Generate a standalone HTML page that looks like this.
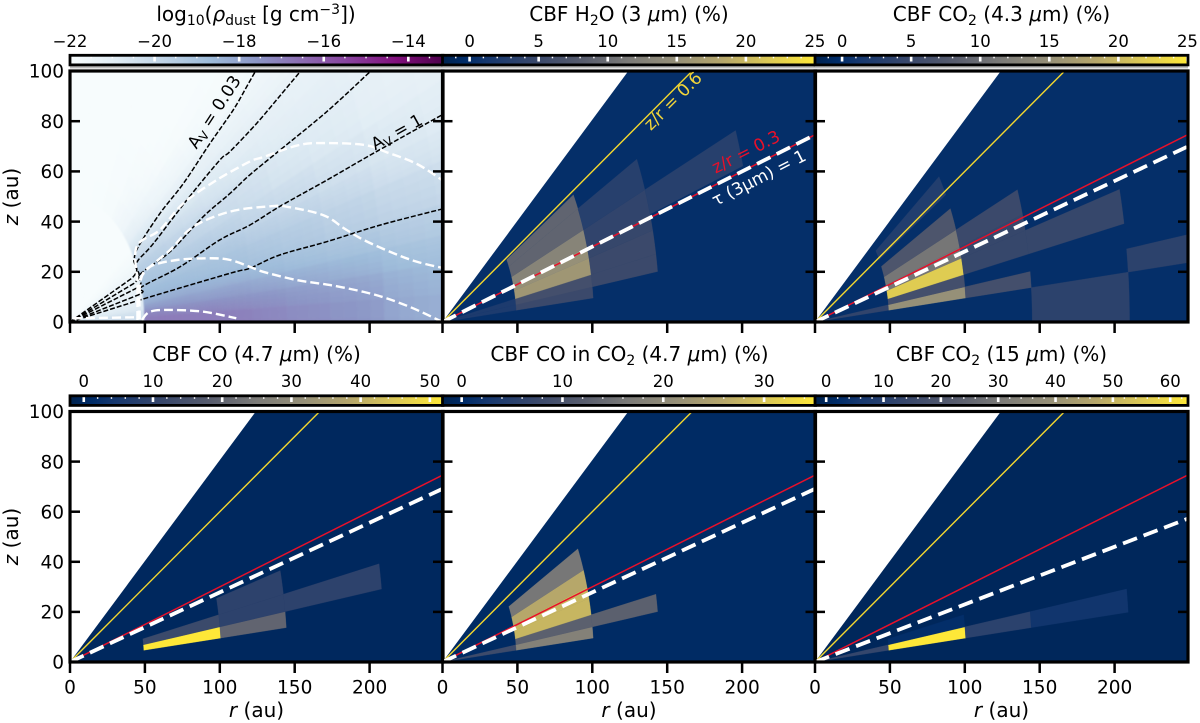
<!DOCTYPE html>
<html lang="en">
<head>
<meta charset="utf-8">
<title>Dust density and CBF maps</title>
<style>
html,body{margin:0;padding:0;background:#fff;width:1200px;height:723px;overflow:hidden}
svg{display:block}
text{font-family:"DejaVu Sans","Liberation Sans",sans-serif;fill:#000}
.title{font-size:20px;text-anchor:middle}
.alab{font-size:20px;text-anchor:middle}
.note{font-size:17px;text-anchor:middle}
</style>
</head>
<body>
<svg id="figure" xmlns="http://www.w3.org/2000/svg" width="1200" height="723" viewBox="0 0 1200 723">
<defs id="defs">
<filter id="soften" x="-5%" y="-5%" width="110%" height="110%"><feGaussianBlur stdDeviation="1"/></filter>
<filter id="soften-inner" x="-5%" y="-5%" width="110%" height="110%"><feGaussianBlur stdDeviation="0.7"/></filter>
</defs>
<g id="marks"></g>

<g>
<text class="title" x="256" y="21">log<tspan font-size="14" dy="4">10</tspan><tspan dy="-4">(</tspan><tspan font-style="italic">ρ</tspan><tspan font-size="14" dy="4">dust</tspan><tspan dy="-4"> [g cm</tspan><tspan font-size="14" dy="-7">−3</tspan><tspan dy="7">])</tspan></text>
<text class="title" x="629" y="21">CBF H<tspan font-size="14" dy="4">2</tspan><tspan dy="-4">O (3 </tspan><tspan font-style="italic">μ</tspan>m) (%)</text>
<text class="title" x="1001.5" y="21">CBF CO<tspan font-size="14" dy="4">2</tspan><tspan dy="-4"> (4.3 </tspan><tspan font-style="italic">μ</tspan>m) (%)</text>
<text class="title" x="256.5" y="361">CBF CO (4.7 <tspan font-style="italic">μ</tspan>m) (%)</text>
<text class="title" x="629.5" y="361">CBF CO in CO<tspan font-size="14" dy="4">2</tspan><tspan dy="-4"> (4.7 </tspan><tspan font-style="italic">μ</tspan>m) (%)</text>
<text class="title" x="1001.5" y="361">CBF CO<tspan font-size="14" dy="4">2</tspan><tspan dy="-4"> (15 </tspan><tspan font-style="italic">μ</tspan>m) (%)</text>
</g>

<g>
<text class="alab" transform="translate(18,196.5) rotate(-90)"><tspan font-style="italic">z</tspan> (au)</text>
<text class="alab" transform="translate(18,536.5) rotate(-90)"><tspan font-style="italic">z</tspan> (au)</text>
<text class="alab" x="256.5" y="717"><tspan font-style="italic">r</tspan> (au)</text>
<text class="alab" x="629" y="717"><tspan font-style="italic">r</tspan> (au)</text>
<text class="alab" x="1001.5" y="717"><tspan font-style="italic">r</tspan> (au)</text>
</g>

<g>
<text class="note" transform="translate(219,115) rotate(-57)">A<tspan font-size="12" dy="3">V</tspan><tspan dy="-3"> = 0.03</tspan></text>
<text class="note" transform="translate(399.5,137) rotate(-29)">A<tspan font-size="12" dy="3">V</tspan><tspan dy="-3"> = 1</tspan></text>
<text class="note" transform="translate(677,105) rotate(-45)" style="fill:#f2d53a">z/r = 0.6</text>
<text class="note" transform="translate(748.5,157) rotate(-27)" style="fill:#e8102a">z/r = 0.3</text>
<text class="note" transform="translate(761.5,183) rotate(-27)" style="fill:#fff">τ (3μm) = 1</text>
</g>
</svg>

<script>
// ---------- shared axis data ----------
const rTicks = [0, 50, 100, 150, 200];
const zTicks = [0, 20, 40, 60, 80, 100];
const rMax = 249;
const zMax = 100;

// ---------- CBF heat-map grid (spherical radius bins, z/r bands) ----------
const cbfRadiusEdges = [0, 49.5, 101, 145, 210, 330];
const cbfSlopeEdges = [0, 0.095, 0.14, 0.19, 0.26, 0.31, 0.39, 0.50, 0.58, 0.70];

const h2oValues = [
  [0, 0, 0, 0, 0],
  [2, 5, 0, 0, 0],
  [2, 6, 5, 0, 0],
  [0, 16, 5, 0, 0],
  [0, 15, 4.5, 0, 0],
  [0, 13, 4, 3, 0],
  [0, 9, 3, 0, 0],
  [0, 9, 0, 0, 0],
  [0, 0, 0, 0, 0]
];
const co2Short = [
  [0, 0, 0, 3.5, 0],
  [4, 15, 6, 0, 3.5],
  [0, 6, 0, 0, 0],
  [0, 22, 4.5, 4.5, 0],
  [0, 11, 4.5, 0, 0],
  [0, 11, 5, 0, 0],
  [0, 7, 0, 0, 0],
  [0, 0, 0, 0, 0],
  [0, 2.5, 0, 0, 0]
];
const coValues = [
  [0, 0, 0, 0, 0],
  [0, 52, 20, 0, 0],
  [0, 12, 9, 9, 0],
  [0, 0, 9, 0, 0],
  [0, 0, 0, 0, 0],
  [0, 0, 0, 0, 0],
  [0, 0, 0, 0, 0],
  [0, 0, 0, 0, 0],
  [0, 0, 0, 0, 0]
];
const coInCo2Values = [
  [0, 0, 0, 0, 0],
  [8, 18, 0, 0, 0],
  [0, 12.5, 12.5, 0, 0],
  [0, 28, 0, 0, 0],
  [0, 28, 0, 0, 0],
  [0, 26, 0, 0, 0],
  [0, 16, 0, 0, 0],
  [0, 0, 0, 0, 0],
  [0, 0, 0, 0, 0]
];
const co2Long = [
  [0, 0, 0, 0, 0],
  [13, 63, 11, 5, 0],
  [0, 2.5, 0, 0, 0],
  [0, 0, 0, 0, 0],
  [0, 0, 0, 0, 0],
  [0, 0, 0, 0, 0],
  [0, 0, 0, 0, 0],
  [0, 0, 0, 0, 0],
  [0, 0, 0, 0, 0]
];

// ---------- surface lines (z/r) ----------
const wedgeSlope = 0.806;
const yellowSlope = 0.6;
const redSlope = 0.3;
const tauSlopes = [0.3, 0.281, 0.278, 0.278, 0.23];

// ---------- dust density grid, log10(rho) ----------
const rhoRadiusEdges = [0, 12, 30, 49.5, 59, 71, 85, 101, 122, 145, 174, 210, 250, 330];
const rhoSlopeEdges = [0, 0.045, 0.095, 0.14, 0.19, 0.26, 0.31, 0.39, 0.50, 0.58, 0.68, 0.8, 1.0, 1.5, 100];
const rhoValues = [
  [-20.2, -20.2, -20.2, -16.9, -16.8, -16.8, -16.8, -16.9, -17.1, -17.3, -17.5, -18.1, -18.5],
  [-20.4, -20.4, -20.4, -17.2, -17.2, -17.3, -17.3, -17.4, -17.5, -17.7, -17.9, -18.4, -18.8],
  [-20.7, -20.8, -20.8, -17.8, -17.8, -17.8, -17.9, -17.9, -18.1, -18.3, -18.5, -18.9, -19.2],
  [-20.9, -21.0, -21.0, -18.3, -18.3, -18.3, -18.4, -18.5, -18.7, -18.9, -19.1, -19.4, -19.7],
  [-21.1, -21.2, -21.2, -18.7, -18.7, -18.8, -18.9, -19.0, -19.2, -19.4, -19.7, -20.0, -20.2],
  [-21.2, -21.3, -21.3, -18.9, -19.0, -19.1, -19.2, -19.3, -19.6, -19.8, -20.1, -20.5, -20.7],
  [-21.3, -21.4, -21.4, -19.1, -19.2, -19.4, -19.5, -19.7, -20.0, -20.2, -20.5, -20.8, -21.0],
  [-21.5, -21.6, -21.6, -19.5, -19.6, -19.8, -20.0, -20.2, -20.4, -20.7, -20.9, -21.2, -21.3],
  [-21.8, -21.8, -21.8, -19.9, -20.0, -20.2, -20.4, -20.6, -20.8, -21.0, -21.1, -21.3, -21.4],
  [-21.9, -21.9, -21.9, -20.2, -20.4, -20.6, -20.8, -20.9, -21.1, -21.2, -21.3, -21.4, -21.5],
  [-22, -22, -22, -20.7, -20.9, -21.1, -21.2, -21.3, -21.4, -21.5, -21.6, -21.7, -21.7],
  [-22, -22, -22, -21.2, -21.4, -21.6, -21.7, -21.8, -21.9, -21.9, -22, -22, -22],
  [-22, -22, -22, -21.7, -21.8, -21.9, -22, -22, -22, -22, -22, -22, -22],
  [-22, -22, -22, -22, -22, -22, -22, -22, -22, -22, -22, -22, -22]
];

// ---------- density contours (white) and extinction contours (black) ----------
const contourR = [
  [45, 45, 44.5, 60, 75.7, 98, 120, 129, 151.5, 167, 196, 211.5, 231.5, 248.3],
  [46, 46, 50, 66.8, 82.4, 107, 133.6, 145, 169, 183, 196, 216, 231.6, 248.3],
  [46.5, 47, 53.4, 71.3, 93.5, 107, 120, 129, 151.5, 173.8, 196, 211.5, 229.3, 248.3],
  [48, 53.4, 66.8, 89, 111],
  [2, 15.6, 44.5]
];
const contourZ = [
  [0.8, 15.4, 30, 36.7, 47.3, 56.6, 63.9, 65.7, 70.3, 71.3, 70.6, 67.6, 63, 56.6],
  [1, 14, 20, 28.7, 38, 44, 46.1, 45.9, 42.6, 37.3, 32.7, 27.4, 24, 21.6],
  [1, 16, 22, 24.7, 25.4, 24.7, 22, 20, 16.7, 14.7, 12, 9.4, 5.4, 0.1],
  [0.8, 4.1, 4.8, 4.1, 1.5],
  [1.5, 1.6, 1.9]
];
const avR = [
  [0, 41.2, 42.7, 45.6, 60.1, 75.7, 93.5, 109, 118, 123.6],
  [0, 42.7, 44.1, 45.6, 55.7, 78, 100, 106.8, 124.7, 140, 153.6],
  [0, 44.1, 46.8, 66.8, 89, 106.8, 120, 140.2, 171.4, 200.3],
  [0, 45.6, 47.9, 73.5, 100, 120, 140.2, 171.4, 202.5, 248.3],
  [0, 46.8, 106.8, 120, 140, 171.4, 207, 248.3]
];
const avZ = [
  [0, 17.4, 24.7, 30, 43.3, 55.2, 71.2, 84.5, 93.8, 99.7],
  [0, 15.4, 22, 24.7, 31.3, 48.6, 64.5, 67.9, 79.2, 90, 99.7],
  [0, 13.4, 19, 28, 42, 51.2, 58.6, 68.5, 83.8, 99.7],
  [0, 10.8, 14, 22, 32.7, 38.6, 46.1, 56.5, 67.2, 82.5],
  [0, 8.8, 19.4, 21.4, 26.7, 32, 38.6, 45]
];

// ---------- colour bar ranges and tick labels ----------
const rhoCbarTicks = [-22, -20, -18, -16, -14];
const h2oCbarTicks = [0, 5, 10, 15, 20, 25];
const co2ShortCbarTicks = [0, 5, 10, 15, 20, 25];
const coCbarTicks = [0, 10, 20, 30, 40, 50];
const coInCo2CbarTicks = [0, 10, 20, 30];
const co2LongCbarTicks = [0, 10, 20, 30, 40, 50, 60];

// ---------- colour maps ----------
const cividisStops = ['#00224e', '#002c68', '#16386f', '#39486b', '#575c6d', '#7c7b78', '#958f78', '#b5a66b', '#dcc955', '#fee838'];
const cividisPos = [0, 0.06, 0.12, 0.25, 0.375, 0.5, 0.625, 0.75, 0.875, 1];
const bupuStops = ['#f7fcfd', '#e0ecf4', '#bfd3e6', '#9ebcda', '#8c96c6', '#8c6bb1', '#88419d', '#810f7c', '#4d004b'];
const bupuPos = [0, 0.125, 0.25, 0.375, 0.5, 0.625, 0.75, 0.875, 1];

const NS = 'http://www.w3.org/2000/svg';
const root = document.getElementById('marks');
const defs = document.getElementById('defs');

function mk(tag, parent) {
  const el = document.createElementNS(NS, tag);
  parent.appendChild(el);
  return el;
}
function hex(c) { return [1, 3, 5].map(i => parseInt(c.substr(i, 2), 16)); }
function cmap(stops, pos, t) {
  t = Math.max(0, Math.min(1, t));
  let i = 0;
  while (i < pos.length - 2 && t > pos[i + 1]) i++;
  const f = (t - pos[i]) / (pos[i + 1] - pos[i]);
  const a = hex(stops[i]), b = hex(stops[i + 1]);
  return 'rgb(' + a.map((v, k) => Math.round(v + (b[k] - v) * f)).join(',') + ')';
}

const LEFTS = [70, 442.5, 815];
const PW = 373;
const ROWS = [{ top: 71, bottom: 322, cbTop: 55.3 }, { top: 411.5, bottom: 662, cbTop: 395.8 }];

function xScale(col, r) { return LEFTS[col] + r / rMax * PW; }
function yScale(row, z) { return ROWS[row].bottom - z / zMax * (ROWS[row].bottom - ROWS[row].top); }

function cellPoints(col, row, rIn, rOut, sLo, sHi) {
  const tLo = Math.atan(sLo), tHi = Math.atan(sHi), n = 8, pts = [];
  for (let i = 0; i <= n; i++) {
    const t = tLo + (tHi - tLo) * i / n;
    pts.push(xScale(col, rOut * Math.cos(t)).toFixed(2) + ',' + yScale(row, rOut * Math.sin(t)).toFixed(2));
  }
  for (let i = n; i >= 0; i--) {
    const t = tLo + (tHi - tLo) * i / n;
    pts.push(xScale(col, rIn * Math.cos(t)).toFixed(2) + ',' + yScale(row, rIn * Math.sin(t)).toFixed(2));
  }
  return pts.join(' ');
}
function polyline(parent, col, row, rs, zs, color, width, dash) {
  const p = mk('polyline', parent);
  p.setAttribute('points', rs.map((r, i) => xScale(col, r).toFixed(2) + ',' + yScale(row, zs[i]).toFixed(2)).join(' '));
  p.setAttribute('fill', 'none');
  p.setAttribute('stroke', color);
  p.setAttribute('stroke-width', width);
  if (dash) p.setAttribute('stroke-dasharray', dash);
  return p;
}
// smooth curve through data points; the first `straight` segments stay straight
function smoothPath(parent, col, row, rs, zs, color, width, dash, straight) {
  const P = rs.map((r, i) => [xScale(col, r), yScale(row, zs[i])]);
  let d = 'M' + P[0][0].toFixed(2) + ' ' + P[0][1].toFixed(2);
  for (let i = 0; i < P.length - 1; i++) {
    if (i < straight) {
      d += 'L' + P[i + 1][0].toFixed(2) + ' ' + P[i + 1][1].toFixed(2);
      continue;
    }
    const p0 = P[Math.max(i - 1, 0)], p1 = P[i], p2 = P[i + 1], p3 = P[Math.min(i + 2, P.length - 1)];
    const c1x = p1[0] + (p2[0] - p0[0]) / 6, c1y = p1[1] + (p2[1] - p0[1]) / 6;
    const c2x = p2[0] - (p3[0] - p1[0]) / 6, c2y = p2[1] - (p3[1] - p1[1]) / 6;
    d += 'C' + [c1x, c1y, c2x, c2y, p2[0], p2[1]].map(v => v.toFixed(2)).join(' ');
  }
  const el = mk('path', parent);
  el.setAttribute('d', d);
  el.setAttribute('fill', 'none');
  el.setAttribute('stroke', color);
  el.setAttribute('stroke-width', width);
  if (dash) el.setAttribute('stroke-dasharray', dash);
  return el;
}
function rect(parent, x, y, w, h, fill) {
  const r = mk('rect', parent);
  r.setAttribute('x', x);
  r.setAttribute('y', y);
  r.setAttribute('width', w);
  r.setAttribute('height', h);
  r.setAttribute('fill', fill);
  return r;
}
function label(parent, x, y, str, size, anchor) {
  const t = mk('text', parent);
  t.setAttribute('x', x);
  t.setAttribute('y', y);
  t.setAttribute('font-size', size);
  t.setAttribute('text-anchor', anchor);
  t.textContent = str;
  return t;
}
function fmt(v) { return v < 0 ? '\u2212' + Math.abs(v) : String(v); }

function drawAxes(g, col, row, showZ) {
  const L = LEFTS[col], R = L + PW, T = ROWS[row].top, B = ROWS[row].bottom;
  zTicks.forEach(v => {
    const y = yScale(row, v);
    if (v !== 0 && v !== 100) {
      const a = rect(g, L, y - 1.25, 10, 2.5, '#000');
      
      
      const b = rect(g, R - 10, y - 1.25, 10, 2.5, '#000');
      
      
    }
    if (showZ) {
      const t = label(g, L - 6, y + 6.7, String(v), 18.5, 'end');
      
      
    }
  });
  rTicks.forEach(v => {
    const x = xScale(col, v);
    const a = rect(g, x - 1.25, B, 2.5, 11, '#000');
    
    
    if (row === 1) {
      const t = label(g, x, 693.5, String(v), 18.5, 'middle');
      
      
    }
  });
  const sp = mk('rect', g);
  sp.setAttribute('x', L);
  sp.setAttribute('y', T);
  sp.setAttribute('width', PW);
  sp.setAttribute('height', B - T);
  sp.setAttribute('fill', 'none');
  sp.setAttribute('stroke', '#000');
  sp.setAttribute('stroke-width', 3.2);
  
  
}

function drawColorbar(g, col, row, id, stops, pos, vMin, vMax, ticks, minorStep) {
  const L = LEFTS[col], yT = ROWS[row].cbTop, h = 9.6;
  const grad = mk('linearGradient', defs);
  grad.setAttribute('id', id);
  pos.forEach((p, i) => {
    const s = mk('stop', grad);
    s.setAttribute('offset', p);
    s.setAttribute('stop-color', stops[i]);
  });
  if (row === 0) {
    const sep = rect(g, L, yT + h + 1, PW, 2.5, '#bdbdbd');
    
    
  }
  const bar = rect(g, L, yT, PW, h, 'url(#' + id + ')');
  
  
  const toX = v => L + (v - vMin) / (vMax - vMin) * PW;
  const first = Math.ceil(vMin / minorStep);
  for (let k = first; k * minorStep <= vMax; k++) {
    const m = rect(g, toX(k * minorStep) - 0.7, yT + 1, 1.4, 2, '#fff');
    
    
  }
  ticks.forEach(v => {
    const x = toX(v);
    const m = rect(g, x - 1.3, yT + 1, 2.6, 5.2, '#fff');
    
    
    const t = label(g, x, row === 0 ? 47 : 387, fmt(v), 16.5, 'middle');
    
    
  });
  const fr = mk('rect', g);
  fr.setAttribute('x', L);
  fr.setAttribute('y', yT);
  fr.setAttribute('width', PW);
  fr.setAttribute('height', h);
  fr.setAttribute('fill', 'none');
  fr.setAttribute('stroke', '#000');
  fr.setAttribute('stroke-width', 2.8);
  
  
}

function clipFor(id, col, row) {
  const c = mk('clipPath', defs);
  c.setAttribute('id', id);
  const r = mk('rect', c);
  r.setAttribute('x', LEFTS[col]);
  r.setAttribute('y', ROWS[row].top);
  r.setAttribute('width', PW);
  r.setAttribute('height', ROWS[row].bottom - ROWS[row].top);
}

function drawCbfPanel(col, row, idx, name, values, vMin, vMax, ticks, minorStep) {
  const g = mk('g', root);
  
  
  const id = 'clip-' + name;
  clipFor(id, col, row);
  const inner = mk('g', g);
  inner.setAttribute('clip-path', 'url(#' + id + ')');
  const norm = v => (v - vMin) / (vMax - vMin);

  // disk wedge background (CBF = 0)
  const wedge = mk('polygon', inner);
  wedge.setAttribute('points', [
    xScale(col, 0) + ',' + yScale(row, 0),
    xScale(col, zMax / wedgeSlope) + ',' + yScale(row, zMax),
    xScale(col, rMax) + ',' + yScale(row, zMax),
    xScale(col, rMax) + ',' + yScale(row, 0)
  ].join(' '));
  wedge.setAttribute('fill', cmap(cividisStops, cividisPos, norm(0)));
  
  

  // heat-map cells
  values.forEach((rowVals, s) => {
    rowVals.forEach((v, c) => {
      if (v <= 0) return;
      const cell = mk('polygon', inner);
      cell.setAttribute('points', cellPoints(col, row, cbfRadiusEdges[c], cbfRadiusEdges[c + 1], cbfSlopeEdges[s], cbfSlopeEdges[s + 1]));
      const color = cmap(cividisStops, cividisPos, norm(v));
      cell.setAttribute('fill', color);
      cell.setAttribute('stroke', color);
      cell.setAttribute('stroke-width', 0.3);
      
      
    });
  });

  // surface lines
  const yl = polyline(inner, col, row, [0, zMax / yellowSlope], [0, zMax], '#f5d82e', 1.4);
  
  
  const rd = polyline(inner, col, row, [0, rMax], [0, rMax * redSlope], '#e8102a', 1.5);
  
  
  const tau = polyline(inner, col, row, [0, rMax], [0, rMax * tauSlopes[idx]], '#fff', 3.8, '15 7');
  
  

  drawColorbar(g, col, row, 'cb-' + name, cividisStops, cividisPos, vMin, vMax, ticks, minorStep);
  drawAxes(g, col, row, col === 0);
}

// density shading inside one grid cell: mostly a blend of the neighbouring
// cell values, with a little of the flat cell value so the grid stays faintly visible
function rhoShade(s, c, u, v, firstCol, lastCol) {
  const nS = rhoValues.length - 1;
  const fs = Math.max(0, Math.min(nS, s + v - 0.5));
  const fc = Math.max(firstCol, Math.min(lastCol, c + u - 0.5));
  const s0 = Math.floor(fs), c0 = Math.floor(fc);
  const s1 = Math.min(nS, s0 + 1), c1 = Math.min(lastCol, c0 + 1);
  const a = fs - s0, b = fc - c0;
  const blended =
    rhoValues[s0][c0] * (1 - a) * (1 - b) +
    rhoValues[s0][c1] * (1 - a) * b +
    rhoValues[s1][c0] * a * (1 - b) +
    rhoValues[s1][c1] * a * b;
  return 0.75 * blended + 0.25 * rhoValues[s][c];
}

function drawDensityPanel() {
  const g = mk('g', root);
  
  
  clipFor('clip-density', 0, 0);
  const inner = mk('g', g);
  inner.setAttribute('clip-path', 'url(#clip-density)');
  const outerCells = mk('g', inner);
  outerCells.setAttribute('filter', 'url(#soften)');
  const innerCells = mk('g', inner);
  innerCells.setAttribute('filter', 'url(#soften-inner)');
  const vMin = -22, vMax = -13.18;
  const SUB = 4;
  const lastCol = rhoValues[0].length - 1;
  rhoValues.forEach((rowVals, s) => {
    rowVals.forEach((val, c) => {
      const isInner = c < 3;
      const layer = isInner ? innerCells : outerCells;
      const tLo = s === 0 ? Math.atan(-0.1) : Math.atan(rhoSlopeEdges[s]);
      const tHi = Math.atan(rhoSlopeEdges[s + 1]);
      const rA = c === 3 ? rhoRadiusEdges[2] : rhoRadiusEdges[c];
      const rB = rhoRadiusEdges[c + 1];
      for (let i = 0; i < SUB; i++) {
        for (let j = 0; j < SUB; j++) {
          const shade = rhoShade(s, c, (i + 0.5) / SUB, (j + 0.5) / SUB, isInner ? 0 : 3, isInner ? 2 : lastCol);
          const cell = mk('polygon', layer);
          cell.setAttribute('points', cellPoints(0, 0,
            rA + (rB - rA) * i / SUB, rA + (rB - rA) * (i + 1) / SUB,
            Math.tan(tLo + (tHi - tLo) * j / SUB), Math.tan(tLo + (tHi - tLo) * (j + 1) / SUB)));
          const color = cmap(bupuStops, bupuPos, (shade - vMin) / (vMax - vMin));
          cell.setAttribute('fill', color);
          cell.setAttribute('stroke', color);
          cell.setAttribute('stroke-width', 0.5);
          
          
        }
      }
    });
  });
  avR.forEach((rs, i) => {
    const l = smoothPath(inner, 0, 0, rs, avZ[i], '#000', 1.5, '5 2', 1);
    
    
  });
  contourR.forEach((rs, i) => {
    const l = smoothPath(inner, 0, 0, rs, contourZ[i], '#fff', 2.4, '9 4', 0);
    
    
  });
  drawColorbar(g, 0, 0, 'cb-density', bupuStops, bupuPos, vMin, vMax, rhoCbarTicks, 0.5);
  drawAxes(g, 0, 0, true);
}

drawDensityPanel();
drawCbfPanel(1, 0, 0, 'cbf-h2o', h2oValues, -1.96, 25.04, h2oCbarTicks, 1);
drawCbfPanel(2, 0, 1, 'cbf-co2-4-3', co2Short, -1.96, 25.04, co2ShortCbarTicks, 1);
drawCbfPanel(0, 1, 2, 'cbf-co', coValues, -1.99, 51.9, coCbarTicks, 2);
drawCbfPanel(1, 1, 3, 'cbf-co-in-co2', coInCo2Values, -1.9, 35.1, coInCo2CbarTicks, 2);
drawCbfPanel(2, 1, 4, 'cbf-co2-15', co2Long, -1.95, 63.1, co2LongCbarTicks, 2);
</script>
</body>
</html>
